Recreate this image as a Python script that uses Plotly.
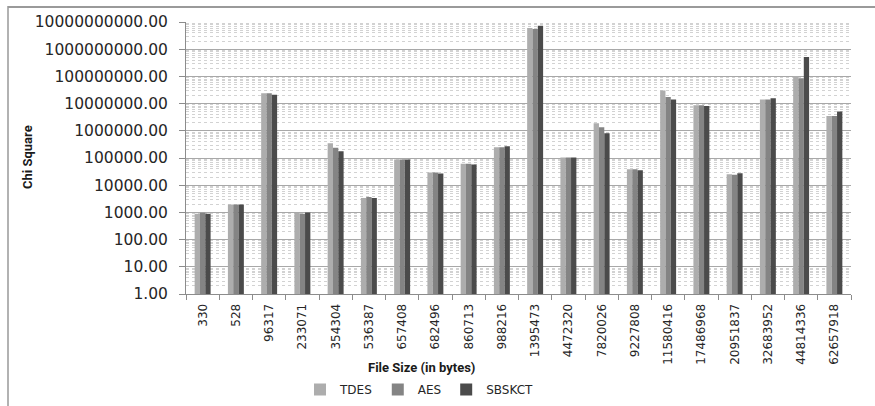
import plotly.graph_objects as go

# File sizes (bytes) used as category labels
file_sizes = ["330", "528", "96317", "233071", "354304", "536387", "657408",
              "682496", "860713", "988216", "1395473", "4472320", "7820026",
              "9227808", "11580416", "17486968", "20951837", "32683952",
              "44814336", "62657918"]

# Chi-square values per algorithm
tdes = [890, 1950, 2.4e7, 970, 3.5e5, 3350, 88000, 29300, 61000, 2.5e5,
        6.0e9, 1.04e5, 1.9e6, 38900, 3.0e7, 8.7e6, 25500, 1.41e7, 1.04e8, 3.5e6]
aes = [980, 1950, 2.4e7, 890, 2.36e5, 3650, 88000, 29300, 61000, 2.5e5,
       5.5e9, 1.04e5, 1.35e6, 38900, 1.76e7, 8.7e6, 24000, 1.41e7, 8.5e7, 3.5e6]
sbskct = [890, 1950, 2.1e7, 1000, 1.78e5, 3350, 88000, 27000, 57900, 2.7e5,
          7.3e9, 1.04e5, 8.2e5, 35700, 1.41e7, 8.2e6, 27600, 1.57e7, 5.2e8, 5.1e6]

# Y-axis decade ticks and their labels
y_tickvals = [1, 10, 100, 1000, 1e4, 1e5, 1e6, 1e7, 1e8, 1e9, 1e10]
y_ticktext = ["1.00", "10.00", "100.00", "1000.00", "10000.00", "100000.00",
              "1000000.00", "10000000.00", "100000000.00", "1000000000.00",
              "10000000000.00"]

series = [("TDES", tdes, "#adadad"), ("AES", aes, "#848484"), ("SBSKCT", sbskct, "#4b4b4b")]

fig = go.Figure()
for name, vals, color in series:
    fig.add_trace(go.Bar(name=name, x=file_sizes, y=vals,
                         marker=dict(color=color, line=dict(width=0))))

L, R, T, B = 186, 24, 22, 112
W, H = 875, 406
pw, ph = W - L - R, H - T - B

def px_x(p):
    return (p - L) / pw

def px_y(p):
    return (H - B - p) / ph

fig.update_layout(
    width=W, height=H,
    margin=dict(l=L, r=R, t=T, b=B, autoexpand=False),
    paper_bgcolor="white", plot_bgcolor="white",
    barmode="group", bargap=0.52, bargroupgap=0,
    font=dict(family="DejaVu Sans", color="#262626"),
    showlegend=True,
    legend=dict(orientation="h", x=px_x(300), y=px_y(375), xanchor="left", yanchor="top",
                font=dict(size=12, family="DejaVu Sans", color="#262626"),
                itemwidth=30, traceorder="normal"),
    xaxis=dict(type="category", tickangle=-90, tickson="boundaries", automargin=False,
               ticks="outside", ticklen=5, tickcolor="#8c8c8c",
               showline=True, linecolor="#8c8c8c", linewidth=1,
               showgrid=False, tickfont=dict(size=12, family="DejaVu Sans", color="#262626"),
               ticklabelstandoff=4),
    yaxis=dict(type="log", range=[0, 10], tickvals=y_tickvals, ticktext=y_ticktext,
               automargin=False,
               ticks="outside", ticklen=6, tickcolor="#8c8c8c",
               showline=True, linecolor="#8c8c8c", linewidth=1,
               showgrid=True, gridcolor="#a8a8a8", gridwidth=1,
               minor=dict(showgrid=True, gridcolor="#d2d2d2", griddash="dot", gridwidth=1,
                          dtick="D1", ticks=""),
               tickfont=dict(size=15.5, family="DejaVu Sans", color="#262626"),
               ticklabelstandoff=8, zeroline=False),
    annotations=[
        dict(text="<b>Chi Square</b>", xref="paper", yref="paper",
             x=px_x(27), y=px_y(157), xanchor="center", yanchor="middle",
             textangle=-90, showarrow=False,
             font=dict(size=13, family="Liberation Sans Narrow, Roboto, sans-serif", color="#1a1a1a")),
        dict(text="<b>File Size (in bytes)</b>", xref="paper", yref="paper",
             x=px_x(421), y=px_y(367), xanchor="center", yanchor="middle", showarrow=False,
             font=dict(size=13, family="Liberation Sans Narrow, Roboto, sans-serif", color="#1a1a1a")),
    ],
    shapes=[
        # chart frame: left edge and top edge
        dict(type="line", xref="paper", yref="paper", x0=px_x(8), x1=px_x(8),
             y0=px_y(6), y1=px_y(420), line=dict(color="#999999", width=1.5)),
        dict(type="line", xref="paper", yref="paper",
             x0=px_x(8), x1=px_x(875), y0=px_y(7), y1=px_y(7),
             line=dict(color="#9a9a9a", width=2)),
    ],
)

fig.write_html("out.html")
